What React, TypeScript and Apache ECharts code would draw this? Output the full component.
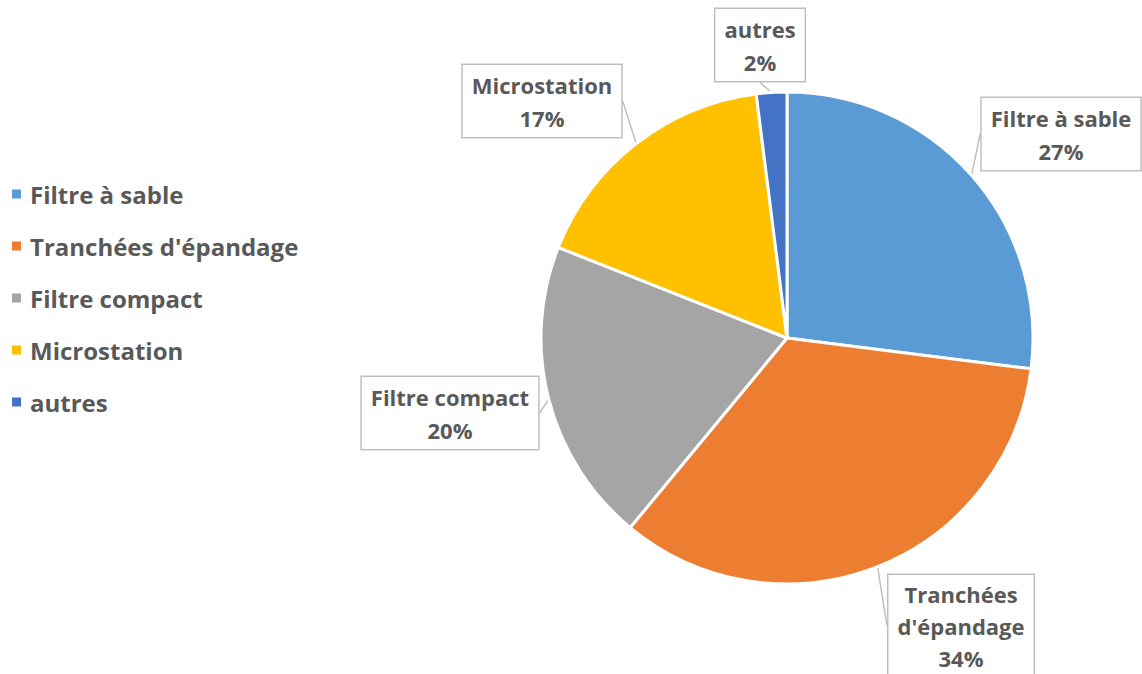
import React, { useEffect, useRef } from "react";
import * as echarts from "echarts";

const categories = ["Filtre à sable", "Tranchées d'épandage", "Filtre compact", "Microstation", "autres"];
const values = [27, 34, 20, 17, 2];
const labelTexts = ["Filtre à sable\n{d}%", "Tranchées\nd'épandage\n{d}%", "Filtre compact\n{d}%", "Microstation\n{d}%", "autres\n{d}%"];
const colors = ["#5B9BD5", "#ED7D31", "#A5A5A5", "#FFC000", "#4472C4"];
// label box centres and line heights (layout only)
const labelPos = [
  [1061, 134],
  [961, 626],
  [450, 413],
  [542, 101],
  [760, 45],
];
const labelLineHeights = [33, 32, 33, 33, 33];

const FONT = "'Open Sans', 'Noto Sans', sans-serif";

export default function App() {
  const ref = useRef<HTMLDivElement>(null);
  useEffect(() => {
    document.body.style.margin = "0";
    const chart = echarts.init(ref.current!, null, { renderer: "svg" });
    chart.setOption({
      animation: false,
      backgroundColor: "#ffffff",
      legend: {
        orient: "vertical",
        left: 5,
        top: 177,
        icon: "rect",
        itemWidth: 11,
        itemHeight: 11,
        itemGap: 28,
        textStyle: { fontFamily: FONT, fontSize: 24, fontWeight: "bold", color: "#595959", lineHeight: 24, padding: [0, 0, 0, 3] },
        data: categories,
      },
      series: [
        {
          type: "pie",
          center: [787, 338],
          radius: 246,
          startAngle: 90,
          clockwise: true,
          itemStyle: { borderColor: "#ffffff", borderWidth: 3 },
          label: {
            show: true,
            position: "outside",
            fontFamily: FONT,
            fontSize: 22,
            fontWeight: "bold",
            color: "#595959",
            lineHeight: 33,
            align: "center",
            overflow: "none",
            bleedMargin: 0,
            backgroundColor: "#ffffff",
            borderColor: "#bfbfbf",
            borderWidth: 1.5,
            padding: [3, 9, 3, 9],
          },
          labelLine: { show: true, length: 0, length2: 0, lineStyle: { color: "#bfbfbf", width: 1.5 } },
          labelLayout: (p: any) => ({
            x: labelPos[p.dataIndex][0],
            y: labelPos[p.dataIndex][1],
            align: "center",
            verticalAlign: "middle",
          }),
          data: categories.map((c, i) => ({
            name: c,
            value: values[i],
            itemStyle: { color: colors[i] },
            label: { formatter: labelTexts[i], lineHeight: labelLineHeights[i] },
          })),
        },
      ],
    });
    return () => chart.dispose();
  }, []);
  return <div ref={ref} style={{ width: 1142, height: 674 }} />;
}
